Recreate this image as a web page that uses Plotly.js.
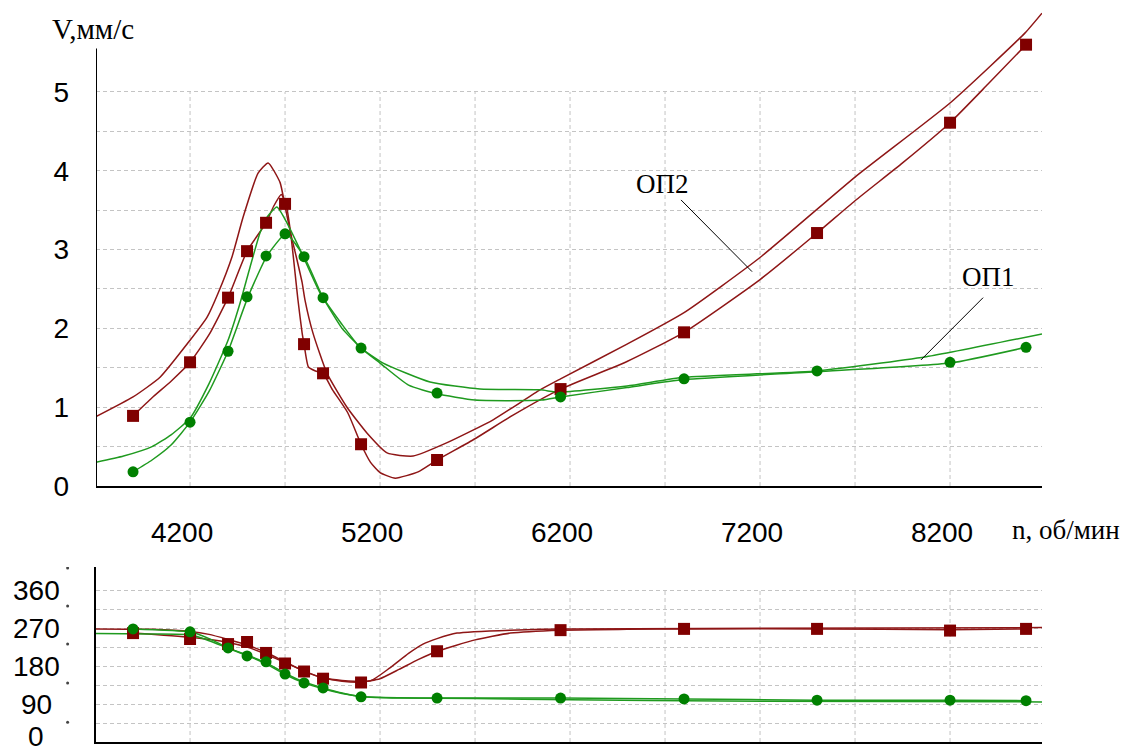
<!DOCTYPE html>
<html><head><meta charset="utf-8">
<script src="https://cdn.plot.ly/plotly-3.0.1.min.js"></script>
<style>html,body{margin:0;padding:0;background:#fff}#chart{width:1148px;height:754px}</style>
</head><body><div id="chart"></div>
<script>
// ---------- measured points ----------
const rpmMeas   = [3900,4200,4400,4500,4600,4700,4800,4900,5100,5500,6150,6800,7500,8200,8600];
const vOP2Meas  = [0.89,1.57,2.39,2.98,3.34,3.58,1.80,1.43,0.53,0.33,1.23,1.95,3.21,4.61,5.60];
const vOP1Meas  = [0.18,0.81,1.71,2.40,2.92,3.20,2.91,2.39,1.75,1.18,1.13,1.36,1.46,1.57,1.76];
const phOP2Meas = [258,244,232,237,211,186,167,150,141,215,265,268,268,264,268];
const phOP1Meas = [268,261,223,204,190,161,140,128,107,104,104,102,99,99,98];

// ---------- amplitude curves ----------
const rpmOP2FitA = [3900,4000,4100,4200,4300,4400,4500,4600,4640,4680,4705,4730,4768,4790,4800,4823,4860,4900,4950,5030,5100,5150,5200,5280,5400,5500,5700,5900,6150,6500,6800,7200,7500,7700,7950,8200,8400,8600];
const vOP2FitA   = [0.89,1.12,1.33,1.57,1.92,2.39,2.98,3.34,3.55,3.70,3.58,3.20,2.36,1.94,1.80,1.51,1.46,1.43,1.22,0.93,0.53,0.30,0.17,0.10,0.18,0.33,0.60,0.90,1.23,1.58,1.95,2.62,3.21,3.62,4.10,4.61,5.10,5.60];
const rpmOP2FitB = [3705,3900,4042,4200,4289,4348,4421,4479,4558,4611,4674,4700,4730,4760,4790,4805,4847,4921,5026,5132,5237,5374,5553,5795,6042,6150,6500,6800,7200,7700,8200,8595,8684];
const vOP2FitB   = [0.88,1.13,1.38,1.85,2.14,2.45,2.91,3.41,3.97,4.10,3.85,3.55,3.20,2.90,2.58,2.36,1.94,1.43,1.00,0.67,0.42,0.38,0.55,0.84,1.22,1.36,1.80,2.20,2.90,3.92,4.86,5.75,6.00];
const rpmOP1FitA = [3900,4000,4100,4200,4300,4400,4505,4605,4705,4800,4900,5000,5100,5200,5350,5500,5700,6050,6150,6500,6800,7500,8200,8600];
const vOP1FitA   = [0.18,0.33,0.52,0.81,1.20,1.71,2.40,2.92,3.20,2.91,2.39,2.00,1.75,1.56,1.28,1.17,1.09,1.09,1.13,1.25,1.35,1.45,1.56,1.76];
const rpmOP1FitB = [3705,3850,4000,4100,4200,4300,4400,4463,4516,4568,4605,4657,4710,4779,4884,5000,5095,5216,5463,5726,6042,6142,6500,6800,7500,8074,8684];
const vOP1FitB   = [0.30,0.38,0.50,0.65,0.86,1.30,1.85,2.32,2.78,3.21,3.41,3.54,3.34,3.00,2.45,2.05,1.76,1.56,1.32,1.23,1.22,1.19,1.27,1.38,1.46,1.64,1.93];

// ---------- phase curves ----------
const rpmPhOP2A = [3900,4200,4400,4500,4600,4700,4800,4900,5000,5100,5200,5300,5400,5500,5700,5885,6150,6500,6800,7500,8200,8600];
const phOP2A    = [258,248,236,225,208,188,168,152,144,142,150,172,195,215,242,258,265,267,268,268,266,268];
const rpmPhOP2B = [3705,4000,4200,4300,4400,4500,4600,4700,4800,4900,5000,5150,5250,5350,5426,5500,5605,5885,6200,8684];
const phOP2B    = [268,267,262,255,243,230,212,190,168,152,146,145,175,210,232,245,258,265,268,271];
const rpmPhOP1A = [3900,4200,4300,4400,4500,4600,4700,4800,4900,5000,5095,5300,5500,6150,6800,7500,8200,8600];
const phOP1A    = [268,261,245,223,206,188,163,142,128,116,108,105,104,104,102,99,99,98];
const rpmPhOP1B = [3705,4000,4200,4300,4400,4500,4600,4700,4800,4900,5000,5100,5300,5700,6200,7000,8684];
const phOP1B    = [257,256,254,240,222,205,185,160,140,126,115,108,104,103,100,97,95];

// ---------- axis tick labels ----------
const xTickVals = [4200,5200,6200,7200,8200];
const xTickText = ['4200','5200','6200','7200','8200'];
const vGrid = [0,0.5,1,1.5,2,2.5,3,3.5,4,4.5,5];
const vGridText = ['0','','1','','2','','3','','4','','5'];
const phGrid = [45,90,135,180,225,270,315,360];
const phLabels = [0,90,180,270,360];
const xGrid = [4200,4700,5200,5700,6200,6700,7200,7700,8200];

const RED='#800000', REDL='#8e1616', GRN='#008000', GRNL='#1f9a1f';
const sans='Liberation Sans, Arial, sans-serif', serif='Liberation Serif, Times New Roman, serif';

function line(x,y,c,xa,ya){return {x:x,y:y,mode:'lines',line:{color:c,width:1.5,shape:'spline',smoothing:0.5},xaxis:xa,yaxis:ya,hoverinfo:'skip',showlegend:false};}
function mk(x,y,c,sym,sz,xa,ya){return {x:x,y:y,mode:'markers',marker:{color:c,symbol:sym,size:sz},xaxis:xa,yaxis:ya,showlegend:false};}

const traces=[
  line(rpmOP2FitB,vOP2FitB,REDL,'x','y'),
  line(rpmOP2FitA,vOP2FitA,REDL,'x','y'),
  line(rpmOP1FitB,vOP1FitB,GRNL,'x','y'),
  line(rpmOP1FitA,vOP1FitA,GRNL,'x','y'),
  mk(rpmMeas,vOP2Meas,RED,'square',12,'x','y'),
  mk(rpmMeas,vOP1Meas,GRN,'circle',11,'x','y'),
  line(rpmPhOP2B,phOP2B,REDL,'x2','y2'),
  line(rpmPhOP2A,phOP2A,REDL,'x2','y2'),
  line(rpmPhOP1B,phOP1B,GRNL,'x2','y2'),
  line(rpmPhOP1A,phOP1A,GRNL,'x2','y2'),
  mk(rpmMeas,phOP2Meas,RED,'square',12,'x2','y2'),
  mk(rpmMeas,phOP1Meas,GRN,'circle',11,'x2','y2')
];

const gridStyle={color:'#c4c4c4',width:1,dash:'4px,3px'};
const shapes=[];
xGrid.forEach(v=>{
  shapes.push({type:'line',xref:'x',yref:'y',x0:v,x1:v,y0:0,y1:5,line:gridStyle,layer:'below'});
  shapes.push({type:'line',xref:'x2',yref:'y2',x0:v,x1:v,y0:0,y1:360,line:gridStyle,layer:'below'});
});
// top y axis line
shapes.push({type:'line',xref:'x',yref:'y',x0:3705,x1:3705,y0:0,y1:5.55,line:{color:'#000',width:2}});
// pointer lines
shapes.push({type:'line',xref:'x',yref:'y',x0:6784,y0:3.63,x1:7158,y1:2.72,line:{color:'#000',width:1}});
shapes.push({type:'line',xref:'x',yref:'y',x0:8374,y0:2.39,x1:8047,y1:1.60,line:{color:'#000',width:1}});
// degree dots
[47,140,232,322,412].forEach(d=>{
  shapes.push({type:'circle',xref:'paper',yref:'y2',xsizemode:'pixel',ysizemode:'pixel',xanchor:-0.030,yanchor:d,x0:-1.5,x1:1.5,y0:-1.5,y1:1.5,fillcolor:'#444',line:{width:0}});
});

const annotations=[
  {xref:'paper',yref:'paper',x:-0.003,y:0.974,text:'V,мм/с',showarrow:false,font:{family:serif,size:29,color:'#000'},xanchor:'center',yanchor:'middle'},
  {xref:'paper',yref:'paper',x:1.0254,y:0.2896,text:'n, об/мин',showarrow:false,font:{family:serif,size:27,color:'#000'},xanchor:'center',yanchor:'middle'},
  {xref:'x',yref:'y',x:6689,y:3.83,text:'ОП2',showarrow:false,font:{family:serif,size:27,color:'#000'},xanchor:'center',yanchor:'middle'},
  {xref:'x',yref:'y',x:8400,y:2.65,text:'ОП1',showarrow:false,font:{family:serif,size:27,color:'#000'},xanchor:'center',yanchor:'middle'}
];
phLabels.forEach(v=>{
  annotations.push({xref:'paper',yref:'y2',x:-0.0634,y:(v===0?13:v),text:String(v),showarrow:false,font:{family:sans,size:28,color:'#000'},xanchor:'center',yanchor:'middle'});
});

const layout={
  width:1148,height:754,
  margin:{l:96,r:106,t:10,b:12},
  paper_bgcolor:'#fff',plot_bgcolor:'#fff',
  showlegend:false,
  xaxis:{domain:[0,1],range:[3705,8684],anchor:'y',showgrid:false,zeroline:false,
         showline:true,linecolor:'#000',linewidth:2,
         tickvals:xTickVals,ticktext:xTickText,ticks:'',
         tickfont:{family:sans,size:28,color:'#000'},ticklabelshift:-8,ticklabelstandoff:20},
  yaxis:{domain:[0.3497,1],range:[0,6.04],tickvals:vGrid,ticktext:vGridText,
         showgrid:true,gridcolor:'#c4c4c4',griddash:'4px,3px',gridwidth:1,zeroline:false,showline:false,
         ticks:'',tickfont:{family:sans,size:28,color:'#000'},ticklabelstandoff:26},
  xaxis2:{domain:[0,1],range:[3705,8684],anchor:'y2',matches:'x',showgrid:false,zeroline:false,
          showline:true,linecolor:'#000',linewidth:2,showticklabels:false,ticks:''},
  yaxis2:{domain:[0,0.239],range:[0,414.5],tickvals:phGrid,showticklabels:false,
          showgrid:true,gridcolor:'#c4c4c4',griddash:'4px,3px',gridwidth:1,zeroline:false,
          showline:true,linecolor:'#000',linewidth:2,ticks:''},
  shapes:shapes,annotations:annotations
};
Plotly.newPlot('chart',traces,layout,{displayModeBar:false,staticPlot:true});
</script></body></html>
